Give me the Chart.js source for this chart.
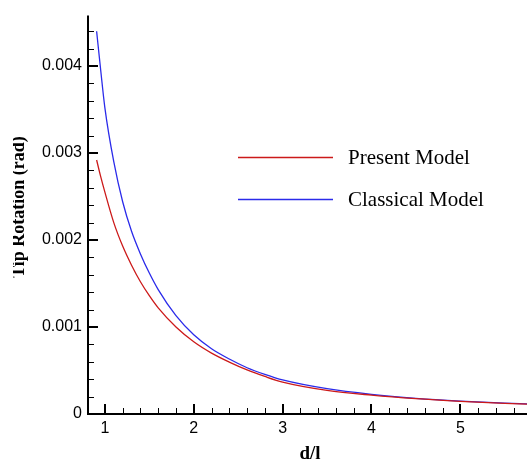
<!DOCTYPE html>
<html>
<head>
<meta charset="utf-8">
<script src="https://cdn.jsdelivr.net/npm/chart.js@4.4.1/dist/chart.umd.min.js"></script>
<style>
  html, body { margin: 0; padding: 0; background: #fff; }
  #wrap { position: relative; width: 527px; height: 461px; }
</style>
</head>
<body>
<div id="wrap"><canvas id="chart"></canvas></div>
<script>
// values (x = d/l, y = tip rotation in units of 1e-3 rad)
const dl = [0.907, 0.95, 1.0, 1.1, 1.2, 1.3, 1.4, 1.5, 1.6, 1.8, 2.0, 2.2, 2.4, 2.6, 2.8, 3.0, 3.5, 4.0, 4.5, 5.0, 5.5, 5.75];
const presentModel = [2.92, 2.74, 2.55, 2.20, 1.93, 1.71, 1.52, 1.36, 1.22, 1.00, 0.83, 0.70, 0.597, 0.507, 0.432, 0.367, 0.272, 0.217, 0.176, 0.146, 0.123, 0.114];
const classicalModel = [4.40, 3.98, 3.52, 2.90, 2.44, 2.10, 1.84, 1.62, 1.43, 1.13, 0.91, 0.75, 0.632, 0.532, 0.456, 0.392, 0.291, 0.226, 0.180, 0.148, 0.125, 0.116];
const xTicks = [1, 2, 3, 4, 5];
const yTicks = [0, 0.001, 0.002, 0.003, 0.004];
const yTickLabels = ["0", "0.001", "0.002", "0.003", "0.004"];

const RED = "#cc1a1a";
const BLUE = "#2b2bea";

const toPoints = (vals) => vals.map((v, i) => ({ x: dl[i], y: v / 1000 }));

// inward ticks, axis lines, titles and the legend drawn inside the plot
const frame = {
  id: "frame",
  afterDraw(chart) {
    const { ctx, chartArea } = chart;
    const xs = chart.scales.x;
    const ys = chart.scales.y;
    const left = chartArea.left, bottom = chartArea.bottom;
    ctx.save();
    ctx.strokeStyle = "#000";

    // minor ticks
    ctx.lineWidth = 1;
    ctx.beginPath();
    for (let i = 5; i <= 28; i++) {
      const v = i * 0.2;
      if (i % 5 === 0 || v > xs.max) continue;
      const px = Math.round(xs.getPixelForValue(v)) + 0.5;
      ctx.moveTo(px, bottom);
      ctx.lineTo(px, bottom - 6);
    }
    for (let i = 1; i <= 22; i++) {
      const v = i * 0.0002;
      if (i % 5 === 0 || v > ys.max) continue;
      const py = Math.round(ys.getPixelForValue(v)) + 0.5;
      ctx.moveTo(left, py);
      ctx.lineTo(left + 6, py);
    }
    ctx.stroke();

    // major ticks
    ctx.lineWidth = 2;
    ctx.beginPath();
    xTicks.forEach((v) => {
      const px = Math.round(xs.getPixelForValue(v));
      ctx.moveTo(px, bottom);
      ctx.lineTo(px, bottom - 10);
    });
    yTicks.forEach((v) => {
      const py = Math.round(ys.getPixelForValue(v));
      ctx.moveTo(left, py);
      ctx.lineTo(left + 10, py);
    });
    ctx.stroke();

    // axis lines
    ctx.beginPath();
    ctx.moveTo(left, chartArea.top);
    ctx.lineTo(left, bottom);
    ctx.lineTo(chartArea.right, bottom);
    ctx.stroke();

    // axis titles
    ctx.fillStyle = "#000";
    ctx.font = "bold 19px 'Liberation Serif', 'Times New Roman', serif";
    ctx.textAlign = "center";
    ctx.textBaseline = "alphabetic";
    ctx.fillText("d/l", 310, 459);

    ctx.save();
    ctx.beginPath();
    ctx.rect(13, 0, 100, 461);
    ctx.clip();
    ctx.font = "bold 18px 'Liberation Serif', 'Times New Roman', serif";
    ctx.translate(24, 207);
    ctx.rotate(-Math.PI / 2);
    ctx.fillText("Tip Rotation (rad)", 0, 0);
    ctx.restore();

    // legend
    const items = [
      { label: "Present Model", color: RED, y: 157.5 },
      { label: "Classical Model", color: BLUE, y: 199.5 },
    ];
    ctx.font = "21px 'Liberation Serif', 'Times New Roman', serif";
    ctx.textAlign = "left";
    items.forEach((it) => {
      ctx.strokeStyle = it.color;
      ctx.lineWidth = 1.3;
      ctx.beginPath();
      ctx.moveTo(238, it.y);
      ctx.lineTo(333, it.y);
      ctx.stroke();
      ctx.fillText(it.label, 348, it.y + 6.5);
    });
    ctx.restore();
  },
};

new Chart(document.getElementById("chart"), {
  type: "line",
  data: {
    datasets: [
      {
        label: "Present Model",
        data: toPoints(presentModel),
        borderColor: RED,
        borderWidth: 1.3,
        pointRadius: 0,
        cubicInterpolationMode: "monotone",
        fill: false,
      },
      {
        label: "Classical Model",
        data: toPoints(classicalModel),
        borderColor: BLUE,
        borderWidth: 1.3,
        pointRadius: 0,
        cubicInterpolationMode: "monotone",
        fill: false,
      },
    ],
  },
  options: {
    responsive: true,
    maintainAspectRatio: false,
    animation: false,
    layout: { padding: { top: 11, right: 0, left: 0, bottom: 0 } },
    plugins: {
      legend: { display: false },
      tooltip: { enabled: false },
    },
    scales: {
      x: {
        type: "linear",
        min: 0.81,
        max: 5.75,
        grid: { display: false, drawTicks: false },
        border: { display: false },
        afterBuildTicks: (s) => { s.ticks = xTicks.map((v) => ({ value: v })); },
        afterFit: (s) => { s.height = 47; },
        ticks: {
          color: "#000",
          padding: 5,
          maxRotation: 0,
          font: { family: "'Liberation Sans', Arial, sans-serif", size: 16 },
          callback: (v) => String(v),
        },
      },
      y: {
        type: "linear",
        min: 0,
        max: 0.00458,
        grid: { display: false, drawTicks: false },
        border: { display: false },
        afterBuildTicks: (s) => { s.ticks = yTicks.map((v) => ({ value: v })); },
        afterFit: (s) => { s.width = 88; },
        ticks: {
          color: "#000",
          padding: 6,
          font: { family: "'Liberation Sans', Arial, sans-serif", size: 16 },
          callback: (v) => {
            const i = yTicks.findIndex((t) => Math.abs(t - v) < 1e-9);
            return i >= 0 ? yTickLabels[i] : "";
          },
        },
      },
    },
  },
  plugins: [frame],
});
</script>
</body>
</html>
